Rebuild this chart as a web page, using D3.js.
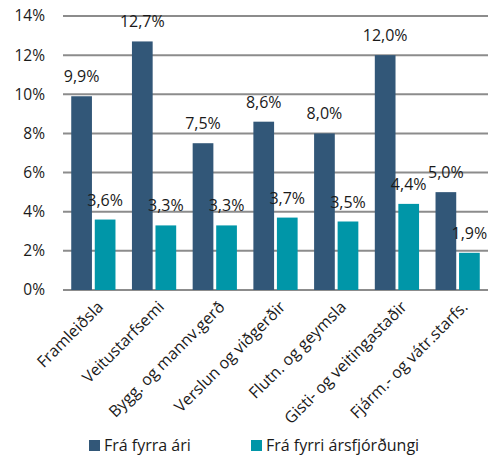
<!DOCTYPE html>
<html>
<head>
<meta charset="utf-8">
<script src="https://cdn.jsdelivr.net/npm/d3@7"></script>
<style>
  body { margin: 0; background: #fff; }
  text { font-family: "Open Sans", sans-serif; fill: #1a1a1a; }
</style>
</head>
<body>
<div id="chart"></div>
<script>
const categories = ["Framleiðsla", "Veitustarfsemi", "Bygg. og mannv.gerð", "Verslun og viðgerðir",
  "Flutn. og geymsla", "Gisti- og veitingastaðir", "Fjárm.- og vátr.starfs."];
const seriesNames = ["Frá fyrra ári", "Frá fyrri ársfjórðungi"];
const fraFyrraAri = [9.9, 12.7, 7.5, 8.6, 8.0, 12.0, 5.0];
const fraFyrriArsfj = [3.6, 3.3, 3.3, 3.7, 3.5, 4.4, 1.9];
const yTicks = [0, 2, 4, 6, 8, 10, 12, 14];
const colors = ["#325778", "#0096a8"];

const width = 502, height = 457;
const margin = { top: 16, right: 14, bottom: 167, left: 63 };

const svg = d3.select("#chart").append("svg")
    .attr("width", width)
    .attr("height", height);

const x = d3.scaleBand()
    .domain(categories)
    .range([margin.left, width - margin.right]);

const y = d3.scaleLinear()
    .domain([0, 14])
    .range([height - margin.bottom, margin.top]);

const fmt = v => v.toFixed(1).replace(".", ",") + "%";

// gridlines
svg.append("g")
  .selectAll("line")
  .data(yTicks)
  .enter().append("line")
    .attr("x1", margin.left)
    .attr("x2", width - margin.right)
    .attr("y1", d => y(d))
    .attr("y2", d => y(d))
    .attr("stroke", "#8c8c8c")
    .attr("stroke-width", 2);

// y labels
svg.append("g")
  .selectAll("text")
  .data(yTicks)
  .enter().append("text")
    .attr("x", 45)
    .attr("y", d => y(d))
    .attr("dy", "0.35em")
    .attr("text-anchor", "end")
    .style("font-size", "15.5px")
    .text(d => d + "%");

const sub = d3.scaleBand()
    .domain([0, 1])
    .range([0, x.bandwidth()])
    .paddingInner(0.12)
    .paddingOuter(0.35);

const series = [fraFyrraAri, fraFyrriArsfj];

series.forEach((vals, s) => {
  const g = svg.append("g");
  g.selectAll("rect")
    .data(vals)
    .enter().append("rect")
      .attr("x", (d, i) => x(categories[i]) + sub(s))
      .attr("y", d => y(d))
      .attr("width", sub.bandwidth())
      .attr("height", d => y(0) - y(d))
      .attr("fill", colors[s]);

  g.selectAll("text")
    .data(vals)
    .enter().append("text")
      .attr("x", (d, i) => x(categories[i]) + sub(s) + sub.bandwidth() / 2)
      .attr("y", d => y(d) - 14)
      .attr("text-anchor", "middle")
      .style("font-size", "16px")
      .text(d => fmt(d));
});

// category labels
svg.append("g")
  .selectAll("text")
  .data(categories)
  .enter().append("text")
    .attr("transform", d => "translate(" + (x(d) + x.bandwidth() / 2 + 7) + "," + (y(0) + 14) + ") rotate(-45)")
    .attr("text-anchor", "end")
    .attr("dy", "0.35em")
    .style("font-size", "16px")
    .text(d => d);

// legend
const legendX = [89, 251];
const legend = svg.append("g");
seriesNames.forEach((name, s) => {
  legend.append("rect")
    .attr("x", legendX[s])
    .attr("y", 440)
    .attr("width", 11)
    .attr("height", 11)
    .attr("fill", colors[s]);
  legend.append("text")
    .attr("x", legendX[s] + 15)
    .attr("y", 445)
    .attr("dy", "0.35em")
    .style("font-size", "16px")
    .text(name);
});
</script>
</body>
</html>
